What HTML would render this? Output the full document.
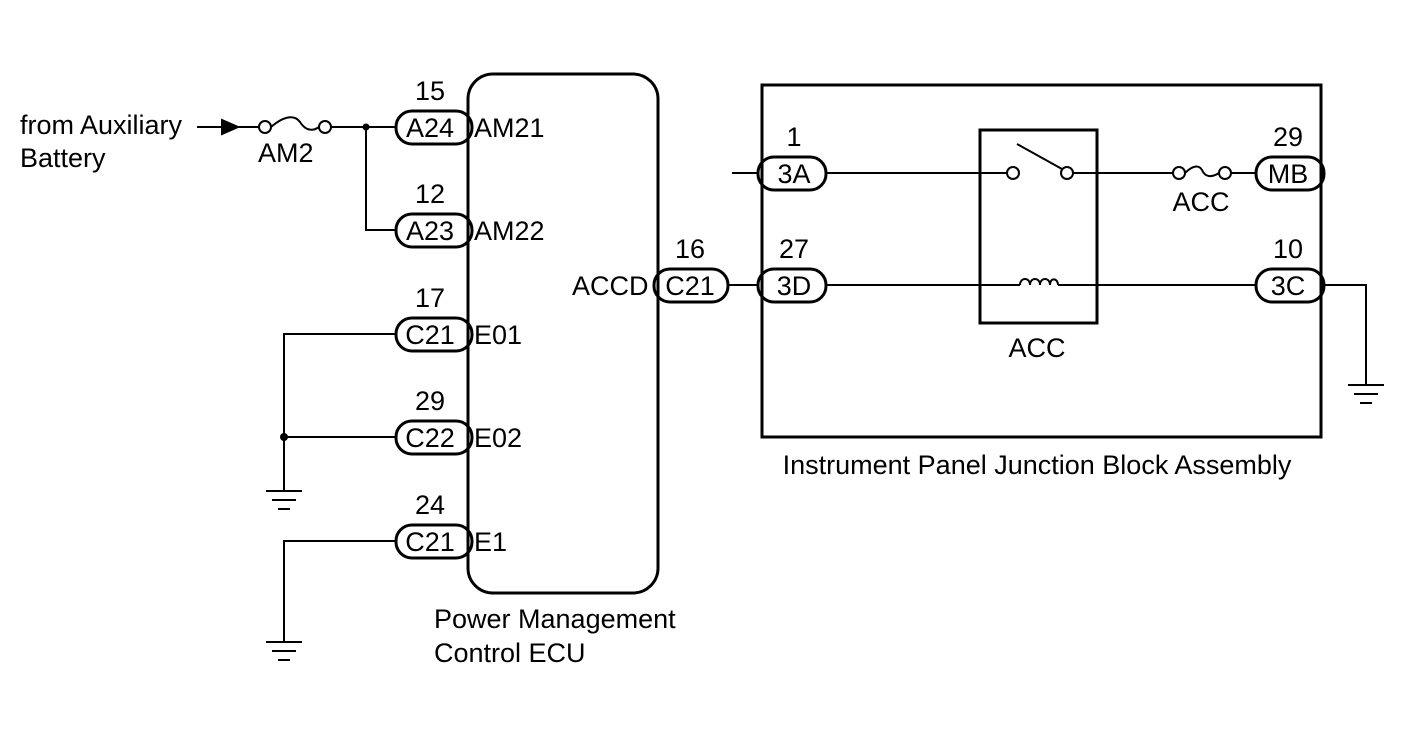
<!DOCTYPE html>
<html><head><style>
body{margin:0;background:#fff;}
svg{display:block;}
text{font-family:"Liberation Sans",sans-serif;font-size:27px;fill:#000;}
</style></head><body>
<svg width="1421" height="756" viewBox="0 0 1421 756" xmlns="http://www.w3.org/2000/svg">
<g fill="none" stroke="#000" stroke-width="2">
<line x1="197" y1="127" x2="259" y2="127"/>
<polygon points="222,120 238,127 222,134" fill="#000"/>
<circle cx="265" cy="127" r="6"/>
<circle cx="325" cy="127" r="6"/>
<path d="M271,127 C285,115 295,115 300,122 C305,130 312,132 319,127"/>
<line x1="331" y1="127" x2="396" y2="127"/>
<polyline points="366,127 366,230 396,230"/>
<circle cx="366" cy="127" r="2.5" fill="#000"/>
<polyline points="396,334 284,334 284,491"/>
<line x1="284" y1="437" x2="396" y2="437"/>
<circle cx="284" cy="437" r="3" fill="#000"/>
<polyline points="396,541 284,541 284,642"/>
<line x1="266" y1="491" x2="302" y2="491"/><line x1="272" y1="500" x2="296" y2="500"/><line x1="278" y1="509" x2="290" y2="509"/>
<line x1="266" y1="642" x2="302" y2="642"/><line x1="272" y1="651" x2="296" y2="651"/><line x1="278" y1="660" x2="290" y2="660"/>
<line x1="728" y1="285" x2="762" y2="285"/>
<line x1="732" y1="173" x2="762" y2="173"/>
<line x1="826" y1="173" x2="1007" y2="173"/>
<circle cx="1013" cy="173" r="6"/>
<circle cx="1067" cy="173" r="6"/>
<line x1="1017" y1="144" x2="1062" y2="169"/>
<line x1="1073" y1="173" x2="1173" y2="173"/>
<circle cx="1179" cy="173" r="6"/>
<circle cx="1225" cy="173" r="6"/>
<path d="M1185,173 C1193,165 1199,165 1202,170 C1205,177 1211,178 1219,173"/>
<line x1="1231" y1="173" x2="1256" y2="173"/>
<line x1="826" y1="285" x2="1020" y2="285"/>
<path d="M1020,285 C1020,277 1030,277 1030,285 C1030,277 1040,277 1040,285 C1040,277 1050,277 1050,285 C1050,277 1058,278 1058,285"/>
<line x1="1058" y1="285" x2="1256" y2="285"/>
<polyline points="1321,285 1366,285 1366,385"/>
<line x1="1348" y1="385" x2="1384" y2="385"/><line x1="1354" y1="394" x2="1378" y2="394"/><line x1="1360" y1="403" x2="1372" y2="403"/>
</g>
<g fill="#fff" stroke="#000" stroke-width="3">
<rect x="396" y="111" width="76" height="33" rx="16"/>
<rect x="396" y="214" width="76" height="33" rx="16"/>
<rect x="396" y="318" width="76" height="33" rx="16"/>
<rect x="396" y="421" width="76" height="33" rx="16"/>
<rect x="396" y="525" width="76" height="33" rx="16"/>
<rect x="654" y="269" width="74" height="33" rx="16"/>
<rect x="758" y="157" width="68" height="33" rx="16"/>
<rect x="758" y="269" width="68" height="33" rx="16"/>
<rect x="1256" y="157" width="68" height="33" rx="16"/>
<rect x="1256" y="269" width="68" height="33" rx="16"/>
</g>
<g fill="none" stroke="#000" stroke-width="3">
<rect x="468" y="74" width="190" height="519" rx="25"/>
<rect x="762" y="85" width="559" height="352"/>
<rect x="980" y="130" width="117" height="193"/>
</g>
<text x="20" y="134">from Auxiliary</text>
<text x="20" y="167">Battery</text>
<text x="258" y="162">AM2</text>
<g text-anchor="middle">
<text x="430" y="100">15</text><text x="430" y="137">A24</text>
<text x="430" y="203">12</text><text x="430" y="240">A23</text>
<text x="430" y="307">17</text><text x="430" y="344">C21</text>
<text x="430" y="410">29</text><text x="430" y="447">C22</text>
<text x="430" y="514">24</text><text x="430" y="551">C21</text>
<text x="690" y="258">16</text><text x="690" y="295">C21</text>
<text x="794" y="146">1</text><text x="794" y="183">3A</text>
<text x="794" y="258">27</text><text x="794" y="295">3D</text>
<text x="1288" y="146">29</text><text x="1288" y="183">MB</text>
<text x="1288" y="258">10</text><text x="1288" y="295">3C</text>
<text x="1201" y="211">ACC</text>
<text x="1037" y="357">ACC</text>
<text x="1037" y="474">Instrument Panel Junction Block Assembly</text>
</g>
<text x="474" y="137">AM21</text>
<text x="474" y="240">AM22</text>
<text x="474" y="344">E01</text>
<text x="474" y="447">E02</text>
<text x="474" y="551">E1</text>
<text x="572" y="295">ACCD</text>
<text x="434" y="628">Power Management</text>
<text x="434" y="662">Control ECU</text>
</svg>
</body></html>
